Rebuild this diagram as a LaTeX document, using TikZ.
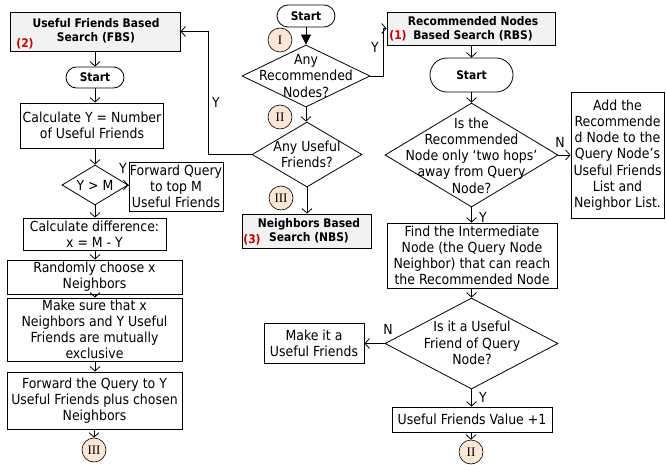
\documentclass[tikz,border=0pt]{standalone}
\usepackage{fontspec}
\setmainfont{DejaVu Sans Condensed}
\newfontfamily\romfont{Liberation Serif}
\usetikzlibrary{shapes.geometric,arrows.meta}
\definecolor{hdrgray}{HTML}{F2F2F2}
\definecolor{peach}{HTML}{FCE6D6}
\definecolor{numred}{HTML}{C00000}
\newcommand{\fsn}{\fontsize{13.9}{16.2}\selectfont}
\newcommand{\fsb}{\fontsize{11.9}{14.2}\selectfont\bfseries}
\tikzset{
  box/.style={draw, line width=0.8pt, align=center, inner sep=1pt, font=\fsn},
  hdr/.style={box, fill=hdrgray},
  term/.style={draw, line width=0.8pt, font=\fsb, inner sep=0pt},
  dia/.style={draw, diamond, line width=0.8pt, inner sep=0pt},
  dtext/.style={align=center, font=\fsn, inner sep=0pt},
  htext/.style={align=center, font=\fsb, inner sep=0pt},
  rnum/.style={font=\fsb, text=numred, inner sep=0pt},
  conn/.style={circle, draw, line width=0.6pt, fill=peach, minimum size=24pt, inner sep=0pt, font=\romfont\fontsize{13}{13}\selectfont},
  lab/.style={font=\fsn, inner sep=0pt},
  arr/.style={line width=0.8pt, -{Straight Barb[length=4.5pt,width=10pt]}},
  ln/.style={line width=0.8pt}
}
\begin{document}
\begin{tikzpicture}[x=1pt,y=-1pt]
\useasboundingbox (0,0) rectangle (666,465);
% ---------- left column ----------
\node[hdr, minimum width=170pt, minimum height=39pt] (fbs) at (95,31.5) {};
\node[htext] (fbst) at (96,31) {Useful Friends Based\\Search (FBS)};
\node[rnum] (n2) at (25,43.5) {(2)};
\node[term, rounded corners=10.5pt, minimum width=58pt, minimum height=21pt] (st1) at (95,77.5) {Start};
\node[box, minimum width=143pt, minimum height=45pt] (calc) at (92,125.5) {Calculate Y = Number\\of Useful Friends};
\node[dia, minimum width=66pt, minimum height=40pt] (ym) at (95,185) {};
\node[dtext] (ymt) at (95,185) {Y > M};
\node[box, minimum width=84pt, minimum height=49pt] (fwd1) at (176,186.5) {Forward Query\\to top M\\Useful Friends};
\node[box, minimum width=143pt, minimum height=32pt] (diff) at (94.5,234) {Calculate difference:\\x = M - Y};
\node[box, minimum width=175pt, minimum height=34pt] (rand) at (94.5,277) {Randomly choose x\\Neighbors};
\node[box, minimum width=175pt, minimum height=63pt] (make) at (94.5,329.5) {Make sure that x\\Neighbors and Y Useful\\Friends are mutually\\exclusive};
\node[box, minimum width=175pt, minimum height=57pt] (fwd2) at (94.5,400.5) {Forward the Query to Y\\Useful Friends plus chosen\\Neighbors};
\node[conn] (c3a) at (94,450) {III};
\coordinate (lx) at (95,0);
\draw[arr] (fbs.south -| lx) -- (st1.north -| lx);
\draw[arr] (st1.south -| lx) -- (calc.north -| lx);
\draw[arr] (calc.south -| lx) -- (ym.north);
\draw[arr] (ym.east) -- (fwd1.west |- ym.east);
\node[lab] (y1) at (123,168) {Y};
\draw[arr] (ym.south) -- (diff.north -| lx);
\draw[arr] (diff.south -| lx) -- (rand.north -| lx);
\draw[arr] (rand.south -| lx) -- (make.north -| lx);
\draw[arr] (make.south -| lx) -- (fwd2.north -| lx);
\draw[arr] (fwd2.south -| c3a) -- (c3a.north);
% ---------- middle column ----------
\node[term, rounded corners=11pt, minimum width=58pt, minimum height=22pt] (st2) at (306,16) {Start};
\node[dia, minimum width=128pt, minimum height=62pt] (d1) at (306,76) {};
\node[dtext] (d1t) at (306,76) {Any\\Recommended\\Nodes?};
\node[dia, minimum width=110pt, minimum height=65pt] (d2) at (307,154.5) {};
\node[dtext] (d2t) at (307,154) {Any Useful\\Friends?};
\node[hdr, minimum width=129pt, minimum height=34pt] (nbs) at (306.5,231) {};
\node[htext] (nbst) at (309,230.5) {Neighbors Based\\Search (NBS)};
\node[rnum] (n3) at (252,240) {(3)};
\node[conn] (cI) at (280,40) {I};
\node[conn] (cII) at (280,117) {II};
\node[conn] (cIII) at (281,198) {III};
\draw[line width=0.8pt, -{Triangle[length=10pt,width=10pt]}] (st2.south) -- (d1.north);
\draw[arr] (d1.south) -- (d2.north -| d1.south);
\draw[arr] (d2.south) -- (nbs.north -| d2.south);
% ---------- right column ----------
\node[hdr, minimum width=168pt, minimum height=33pt] (rbs) at (471,28.5) {};
\node[htext] (rbst) at (473,28.5) {Recommended Nodes\\Based Search (RBS)};
\node[rnum] (n1) at (398,36) {(1)};
\node[term, rounded corners=17pt, minimum width=83pt, minimum height=34pt] (st3) at (471.5,75) {Start};
\node[dia, minimum width=173pt, minimum height=104pt] (d3) at (471.5,155) {};
\node[dtext] (d3t) at (471.5,155.5) {Is the\\Recommended\\Node only ‘two hops’\\away from Query\\Node?};
\node[box, minimum width=93pt, minimum height=126pt] (add) at (617.5,155) {Add the\\Recommende\\d Node to the\\Query Node’s\\Useful Friends\\List and\\Neighbor List.};
\node[box, minimum width=170pt, minimum height=65pt] (find) at (472,255.5) {Find the Intermediate\\Node (the Query Node\\Neighbor) that can reach\\the Recommended Node};
\node[dia, minimum width=173pt, minimum height=91pt] (d4) at (471.5,343.5) {};
\node[dtext] (d4t) at (472,343) {Is it a Useful\\Friend of Query\\Node?};
\node[box, minimum width=100pt, minimum height=40pt] (make2) at (314,343.5) {Make it a\\Useful Friends};
\node[box, minimum width=160pt, minimum height=25pt] (uf) at (472,419.5) {Useful Friends Value +1};
\node[conn] (c2b) at (471,452) {II};
\coordinate (rx) at (471.5,0);
\draw[arr] (rbs.south -| rx) -- (st3.north -| rx);
\draw[arr] (st3.south -| rx) -- (d3.north);
\draw[arr] (d3.east) -- (add.west |- d3.east);
\node[lab] (n4) at (560,142) {N};
\draw[arr] (d3.south) -- (find.north -| d3.south);
\node[lab] (y4) at (483,217) {Y};
\draw[arr] (find.south -| rx) -- (d4.north);
\draw[arr] (d4.west) -- (make2.east |- d4.west);
\node[lab] (n5) at (388,329) {N};
\draw[arr] (d4.south) -- (uf.north -| d4.south);
\node[lab] (y5) at (483,397) {Y};
\draw[arr] (uf.south -| c2b) -- (c2b.north);
% ---------- cross connectors ----------
\coordinate (j1) at (383,76);
\draw[arr] (d1.east) -- (j1) |- (rbs.west);
\node[lab] (y2) at (375,47) {Y};
\coordinate (j2) at (208,154.5);
\draw[arr] (d2.west) -- (j2) |- (fbs.east);
\node[lab] (y3) at (216,102) {Y};
\end{tikzpicture}
\end{document}
